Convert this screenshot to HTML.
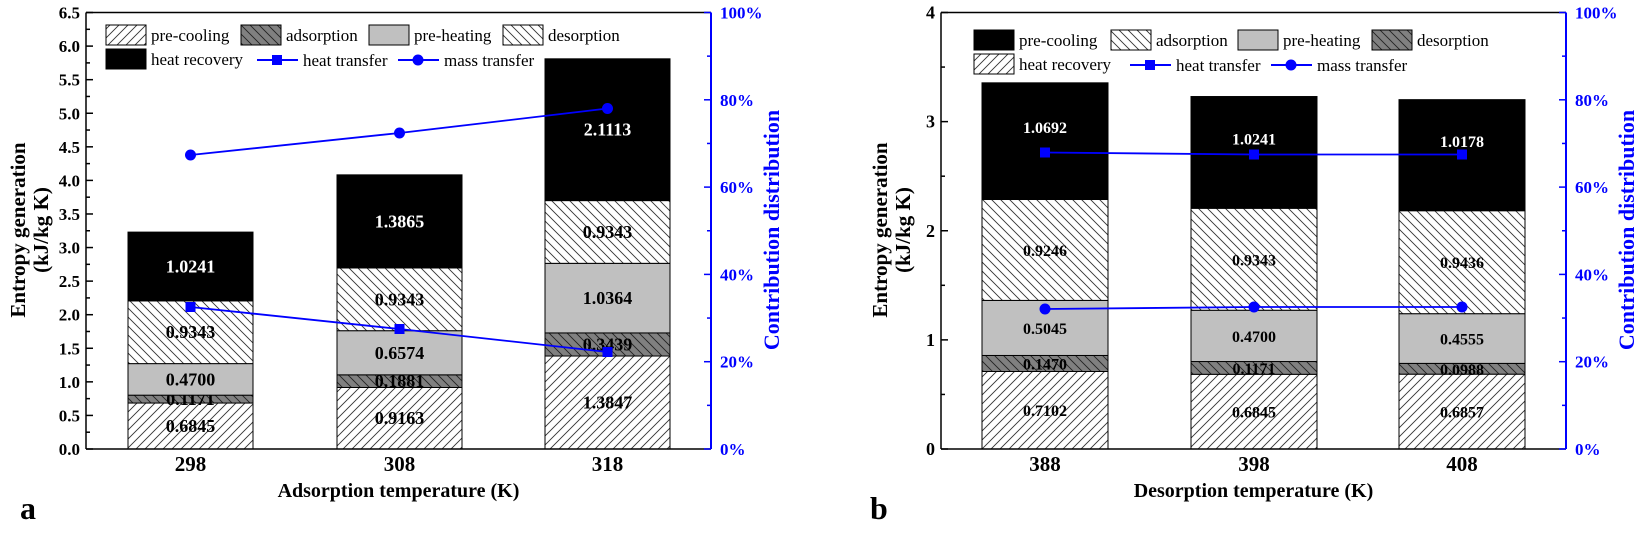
<!DOCTYPE html>
<html><head><meta charset="utf-8"><style>
html,body{margin:0;padding:0;background:#fff;}
svg text{font-family:"Liberation Serif",serif;font-weight:bold;}
</style></head><body>
<svg id="s" width="1641" height="531" viewBox="0 0 1641 531" xmlns="http://www.w3.org/2000/svg">
<defs>
<pattern id="fw" patternUnits="userSpaceOnUse" width="9" height="9"><rect width="9" height="9" fill="#fff"/><path d="M-2,11 L11,-2 M-2,2 L2,-2 M7,11 L11,7" stroke="#333" stroke-width="0.9"/></pattern>
<pattern id="bw" patternUnits="userSpaceOnUse" width="9" height="9"><rect width="9" height="9" fill="#fff"/><path d="M-2,-2 L11,11 M-2,7 L2,11 M7,-2 L11,2" stroke="#333" stroke-width="0.9"/></pattern>
<pattern id="bd" patternUnits="userSpaceOnUse" width="9" height="9"><rect width="9" height="9" fill="#808080"/><path d="M-2,-2 L11,11 M-2,7 L2,11 M7,-2 L11,2" stroke="#222" stroke-width="0.9"/></pattern>
</defs>
<g id="g"></g>
</svg>
<script>
var g=document.getElementById('g'),h='';
function R(x,y,w,hh,f,extra){h+='<rect x="'+x+'" y="'+y+'" width="'+w+'" height="'+hh+'" fill="'+f+'" stroke="#000" stroke-width="1" '+(extra||'')+'/>';}
function T(x,y,s,sz,col,anch,extra){h+='<text x="'+x+'" y="'+y+'" font-size="'+sz+'" fill="'+(col||'#000')+'" text-anchor="'+(anch||'middle')+'" '+(extra||'')+'>'+s+'</text>';}
function L(x1,y1,x2,y2,c,w){h+='<line x1="'+x1+'" y1="'+y1+'" x2="'+x2+'" y2="'+y2+'" stroke="'+c+'" stroke-width="'+(w||1.5)+'"/>';}
var fills={pc:'url(#fw)',ad:'url(#bd)',ph:'#c0c0c0',de:'url(#bw)',hr:'#000'};
function chart(o){
 var B=449,Tp=12.5,l=o.l,r=o.r;
 o.bars.forEach(function(b,i){
  var x=o.bx[i],y=B;
  b.forEach(function(v,j){
   var hh=v*o.k, f=o.order[j];
   R(x,y-hh,o.bw,hh,fills[f]);
   var white=(f==='hr'&&o.hrBlack)||(f==='pc'&&!o.hrBlack);
   var dy=(white&&!o.hrBlack)?-14:0;
   T(x+o.bw/2,y-hh/2+6+dy,v.toFixed(4),o.fs||18,white?'#fff':'#000');
   y-=hh;
  });
 });
 L(l,Tp,l,B,'#000',1.5);L(l,B,r,B,'#000',1.5);L(l,Tp,r,Tp,'#000',1.5);
 L(r,Tp,r,B,'#00f',2);
 o.yt.forEach(function(t){var y=B-t[0]*o.k;L(l,y,l+7,y,'#000',1.5);if(t[1]!==null)T(l-6,y+6,t[1],o.yfs||17,'#000','end');});
 o.ym.forEach(function(v){var y=B-v*o.k;L(l,y,l+4,y,'#000',1.5);});
 for(var p=0;p<=100;p+=10){var y=B-p/100*(B-Tp);L(r,y,r-(p%20?4:7),y,'#00f',1.5);if(p%20==0)T(r+9,y+6,p+'%',17,'#00f','start');}
 o.bx.forEach(function(x,i){T(x+o.bw/2,471,o.xl[i],21,'#000');});
 T((l+r)/2,497,o.xt,20,'#000');
 T(o.lx,519,o.let,32,'#000','start');
 T(0,0,'Entropy generation',21,'#000','middle','transform="translate('+o.ya+',230) rotate(-90)"');
 T(0,0,'(kJ/kg K)',21,'#000','middle','transform="translate('+(o.ya+23)+',230) rotate(-90)"');
 T(0,0,'Contribution distribution',22,'#00f','middle','transform="translate('+o.ra+',230) rotate(-90)"');
 [o.sq,o.ci].forEach(function(ys,k){
  var pts=ys.map(function(y,i){return (o.bx[i]+o.bw/2)+','+y;}).join(' ');
  h+='<polyline points="'+pts+'" fill="none" stroke="#00f" stroke-width="1.8"/>';
  ys.forEach(function(y,i){var cx=o.bx[i]+o.bw/2; if(k==0)h+='<rect x="'+(cx-5)+'" y="'+(y-5)+'" width="10" height="10" fill="#00f"/>';else h+='<circle cx="'+cx+'" cy="'+y+'" r="5.5" fill="#00f"/>';});
 });
 var Lg=o.leg;
 Lg.boxes.forEach(function(b){R(b[0],b[1],40,20,fills[b[2]]);T(b[0]+45,b[1]+16,b[3],17,'#000','start','style="font-weight:normal"');});
 Lg.lines.forEach(function(b,k){L(b[0],b[1],b[0]+41,b[1],'#00f',2);var cx=b[0]+20;if(k==0)h+='<rect x="'+(cx-5)+'" y="'+(b[1]-5)+'" width="10" height="10" fill="#00f"/>';else h+='<circle cx="'+cx+'" cy="'+b[1]+'" r="5.5" fill="#00f"/>';T(b[0]+46,b[1]+6,b[2],17,'#000','start','style="font-weight:normal"');});
}
var ytA=[],ymA=[];for(var i=0;i<=13;i++){ytA.push([i*0.5,(i*0.5).toFixed(1)]);ymA.push(i*0.5+0.25);}ymA.pop();
chart({l:86,r:711,k:67.15,bw:125,bx:[128,337,545],hrBlack:true,
 order:['pc','ad','ph','de','hr'],
 bars:[[0.6845,0.1171,0.47,0.9343,1.0241],[0.9163,0.1881,0.6574,0.9343,1.3865],[1.3847,0.3439,1.0364,0.9343,2.1113]],
 yt:ytA,ym:ymA,xl:['298','308','318'],xt:'Adsorption temperature (K)',lx:20,let:'a',ya:25,ra:779,
 sq:[307,329,352],ci:[155,133,108.5],
 leg:{boxes:[[106,25,'pc','pre-cooling'],[241,25,'ad','adsorption'],[369,25,'ph','pre-heating'],[503,25,'de','desorption'],[106,49,'hr','heat recovery']],
 lines:[[257,60,'heat transfer'],[398,60,'mass transfer']]}});
fills={pc:'#000',ad:'url(#bw)',ph:'#c0c0c0',de:'url(#bd)',hr:'url(#fw)'};
chart({l:941,r:1566,k:109.125,bw:126,bx:[982,1191,1399],hrBlack:false,fs:16,
 order:['hr','de','ph','ad','pc'],
 bars:[[0.7102,0.1470,0.5045,0.9246,1.0692],[0.6845,0.1171,0.47,0.9343,1.0241],[0.6857,0.0988,0.4555,0.9436,1.0178]],
 yt:[[0,'0'],[1,'1'],[2,'2'],[3,'3'],[4,'4']],ym:[0.5,1.5,2.5,3.5],yfs:18,xl:['388','398','408'],xt:'Desorption temperature (K)',lx:870,let:'b',ya:887,ra:1634,
 sq:[152.5,154.5,154.5],ci:[309,307,307],
 leg:{boxes:[[974,30,'pc','pre-cooling'],[1111,30,'ad','adsorption'],[1238,30,'ph','pre-heating'],[1372,30,'de','desorption'],[974,54,'hr','heat recovery']],
 lines:[[1130,65,'heat transfer'],[1271,65,'mass transfer']]}});
g.innerHTML=h;
</script>
</body></html>
